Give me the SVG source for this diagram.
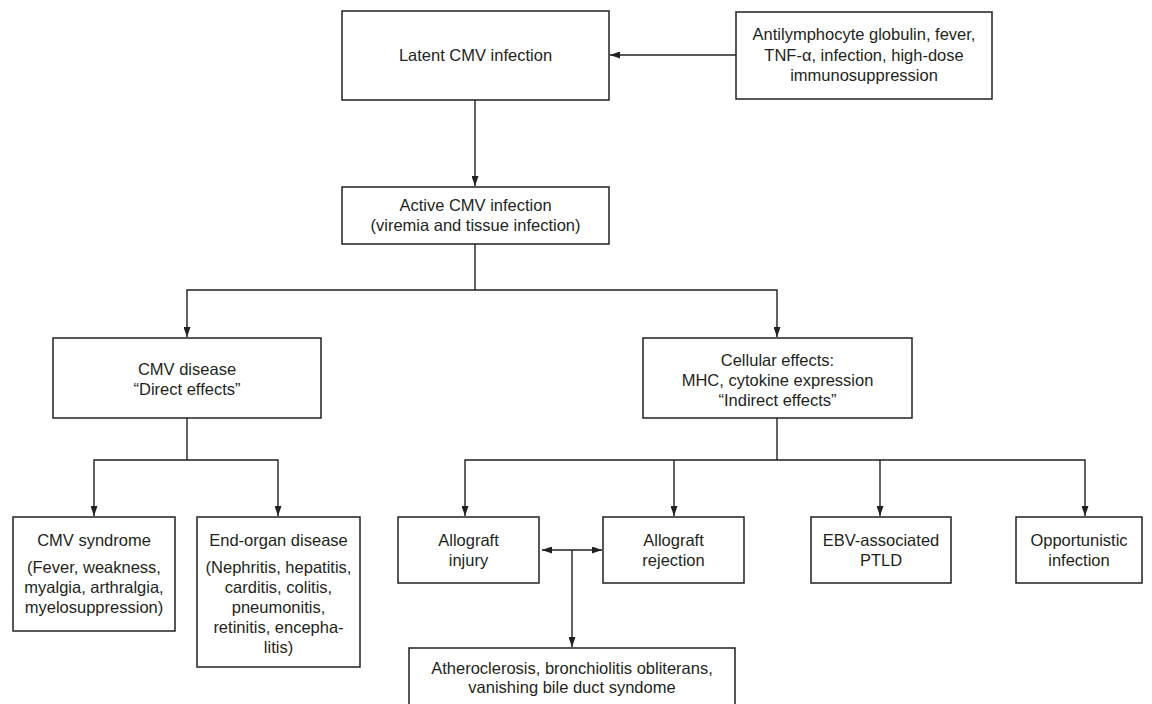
<svg xmlns="http://www.w3.org/2000/svg" width="1152" height="704" viewBox="0 0 1152 704">
<defs>
<style>
.box{fill:#fff;stroke:#231f20;stroke-width:1.5}
.ln{fill:none;stroke:#231f20;stroke-width:1.4}
text{font-family:"Liberation Sans",Arial,sans-serif;font-size:16.5px;fill:#231f20;text-anchor:middle}
</style>
<marker id="ah" viewBox="0 0 10 7" refX="10" refY="3.5" markerWidth="10" markerHeight="7" markerUnits="userSpaceOnUse" orient="auto-start-reverse">
<path d="M0,0 L10,3.5 L0,7 z" fill="#231f20"/>
</marker>
</defs>
<rect width="1152" height="704" fill="#fff"/>
<g id="connectors">
<line class="ln" x1="736" y1="55" x2="610" y2="55" marker-end="url(#ah)"/>
<line class="ln" x1="475" y1="100" x2="475" y2="186" marker-end="url(#ah)"/>
<polyline class="ln" points="475,244 475,290"/>
<polyline class="ln" points="187,337 187,290 777,290 777,337" marker-start="url(#ah)" marker-end="url(#ah)"/>
<polyline class="ln" points="187,418 187,460"/>
<polyline class="ln" points="94,516 94,460 278,460 278,516" marker-start="url(#ah)" marker-end="url(#ah)"/>
<polyline class="ln" points="777,418 777,460"/>
<polyline class="ln" points="465,516 465,460 1085,460 1085,516" marker-start="url(#ah)" marker-end="url(#ah)"/>
<line class="ln" x1="674" y1="460" x2="674" y2="516" marker-end="url(#ah)"/>
<line class="ln" x1="880" y1="460" x2="880" y2="516" marker-end="url(#ah)"/>
<line class="ln" x1="542" y1="550" x2="602" y2="550" marker-start="url(#ah)" marker-end="url(#ah)"/>
<line class="ln" x1="572" y1="550" x2="572" y2="647" marker-end="url(#ah)"/>
</g>
<g id="latent">
<rect class="box" x="342" y="11" width="267" height="89"/>
<text x="475.5" y="61">Latent CMV infection</text>
</g>
<g id="triggers">
<rect class="box" x="736" y="12" width="256" height="87"/>
<text x="864" y="40">Antilymphocyte globulin, fever,</text>
<text x="864" y="61">TNF-α, infection, high-dose</text>
<text x="864" y="81">immunosuppression</text>
</g>
<g id="active">
<rect class="box" x="342" y="187" width="267" height="57"/>
<text x="475.5" y="211">Active CMV infection</text>
<text x="475.5" y="231">(viremia and tissue infection)</text>
</g>
<g id="cmv-disease">
<rect class="box" x="53" y="338" width="268" height="80"/>
<text x="187" y="375">CMV disease</text>
<text x="187" y="395">“Direct effects”</text>
</g>
<g id="cellular">
<rect class="box" x="643" y="338" width="269" height="80"/>
<text x="777.5" y="366">Cellular effects:</text>
<text x="777.5" y="386">MHC, cytokine expression</text>
<text x="777.5" y="406">“Indirect effects”</text>
</g>
<g id="cmv-syndrome">
<rect class="box" x="13" y="517" width="162" height="114"/>
<text x="94" y="546">CMV syndrome</text>
<text x="94" y="573">(Fever, weakness,</text>
<text x="94" y="593">myalgia, arthralgia,</text>
<text x="94" y="613">myelosuppression)</text>
</g>
<g id="end-organ">
<rect class="box" x="197" y="517" width="163" height="150"/>
<text x="278.5" y="546">End-organ disease</text>
<text x="278.5" y="573">(Nephritis, hepatitis,</text>
<text x="278.5" y="593">carditis, colitis,</text>
<text x="278.5" y="613">pneumonitis,</text>
<text x="278.5" y="633">retinitis, encepha-</text>
<text x="278.5" y="653">litis)</text>
</g>
<g id="allograft-injury">
<rect class="box" x="398" y="517" width="141" height="66"/>
<text x="468.5" y="546">Allograft</text>
<text x="468.5" y="566">injury</text>
</g>
<g id="allograft-rejection">
<rect class="box" x="603" y="517" width="141" height="66"/>
<text x="673.5" y="546">Allograft</text>
<text x="673.5" y="566">rejection</text>
</g>
<g id="ebv-ptld">
<rect class="box" x="811" y="517" width="140" height="66"/>
<text x="881" y="546">EBV-associated</text>
<text x="881" y="566">PTLD</text>
</g>
<g id="opportunistic">
<rect class="box" x="1016" y="517" width="126" height="66"/>
<text x="1079" y="546">Opportunistic</text>
<text x="1079" y="566">infection</text>
</g>
<g id="chronic">
<rect class="box" x="409" y="648" width="326" height="70"/>
<text x="572" y="674">Atheroclerosis, bronchiolitis obliterans,</text>
<text x="572" y="693">vanishing bile duct syndome</text>
</g>
</svg>
